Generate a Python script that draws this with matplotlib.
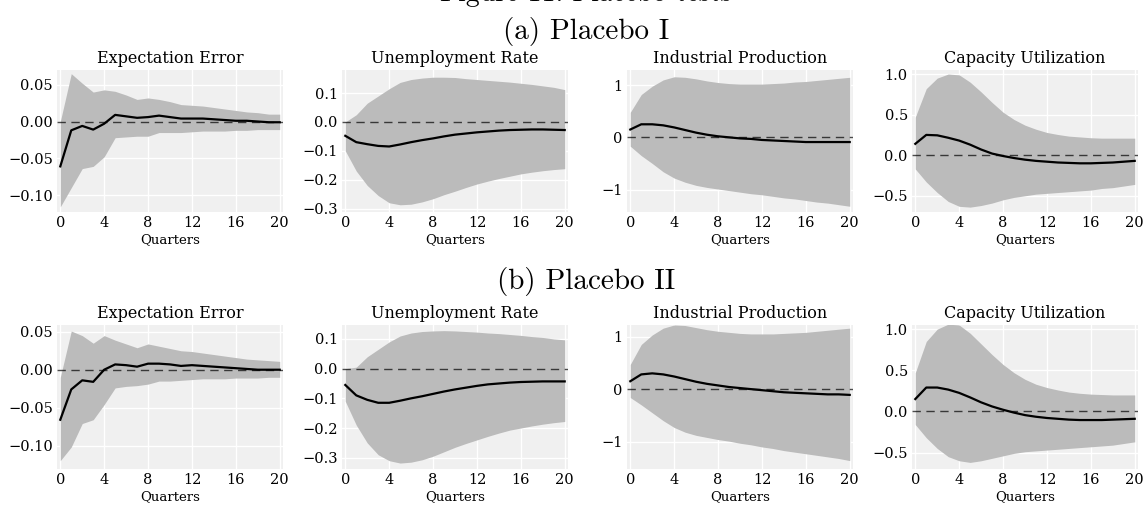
import numpy as np
import matplotlib
matplotlib.use("Agg")
import matplotlib.pyplot as plt

quarters = np.arange(21)
titles = ["Expectation Error", "Unemployment Rate", "Industrial Production", "Capacity Utilization"]
panel_names = ["(a) Placebo I", "(b) Placebo II"]

# Placebo I
a_ee_irf = [-0.061, -0.012, -0.006, -0.011, -0.003, 0.009, 0.007, 0.005, 0.006, 0.008, 0.006,
            0.004, 0.004, 0.004, 0.003, 0.002, 0.001, 0.001, 0.000, -0.001, -0.001]
a_ee_hi = [0.000, 0.065, 0.052, 0.040, 0.043, 0.041, 0.036, 0.030, 0.032, 0.030, 0.027,
           0.023, 0.022, 0.021, 0.019, 0.017, 0.015, 0.013, 0.012, 0.010, 0.010]
a_ee_lo = [-0.116, -0.090, -0.064, -0.061, -0.048, -0.022, -0.021, -0.020, -0.020, -0.015, -0.015,
           -0.015, -0.014, -0.013, -0.013, -0.013, -0.012, -0.012, -0.011, -0.011, -0.011]

a_ur_irf = [-0.048, -0.070, -0.077, -0.083, -0.085, -0.078, -0.070, -0.063, -0.057, -0.050, -0.044,
            -0.040, -0.036, -0.033, -0.030, -0.028, -0.027, -0.026, -0.026, -0.027, -0.028]
a_ur_hi = [0.000, 0.025, 0.065, 0.090, 0.115, 0.137, 0.147, 0.152, 0.155, 0.155, 0.154,
           0.150, 0.147, 0.144, 0.141, 0.138, 0.134, 0.130, 0.125, 0.120, 0.112]
a_ur_lo = [-0.100, -0.170, -0.220, -0.255, -0.280, -0.287, -0.285, -0.277, -0.266, -0.252, -0.240,
           -0.227, -0.215, -0.205, -0.196, -0.188, -0.180, -0.174, -0.169, -0.165, -0.162]

a_ip_irf = [0.15, 0.25, 0.25, 0.23, 0.19, 0.14, 0.09, 0.05, 0.02, 0.00, -0.02,
            -0.03, -0.05, -0.06, -0.07, -0.08, -0.09, -0.09, -0.09, -0.09, -0.09]
a_ip_hi = [0.48, 0.82, 0.98, 1.10, 1.16, 1.15, 1.12, 1.08, 1.05, 1.03, 1.02,
           1.02, 1.02, 1.03, 1.04, 1.06, 1.07, 1.09, 1.11, 1.13, 1.15]
a_ip_lo = [-0.17, -0.35, -0.50, -0.66, -0.78, -0.86, -0.92, -0.96, -0.99, -1.02, -1.05,
           -1.08, -1.10, -1.13, -1.16, -1.18, -1.21, -1.24, -1.26, -1.29, -1.32]

a_cu_irf = [0.14, 0.25, 0.245, 0.215, 0.18, 0.13, 0.07, 0.02, -0.01, -0.035, -0.055,
            -0.07, -0.08, -0.09, -0.095, -0.10, -0.10, -0.095, -0.09, -0.08, -0.07]
a_cu_hi = [0.47, 0.82, 0.95, 1.00, 0.99, 0.90, 0.78, 0.65, 0.53, 0.44, 0.37,
           0.32, 0.28, 0.255, 0.235, 0.225, 0.215, 0.21, 0.21, 0.21, 0.21]
a_cu_lo = [-0.17, -0.33, -0.46, -0.57, -0.63, -0.64, -0.62, -0.59, -0.55, -0.52, -0.50,
           -0.48, -0.47, -0.46, -0.45, -0.44, -0.43, -0.41, -0.40, -0.38, -0.36]

# Placebo II
b_ee_irf = [-0.066, -0.026, -0.014, -0.016, 0.000, 0.007, 0.006, 0.004, 0.008, 0.008, 0.007,
            0.005, 0.006, 0.005, 0.004, 0.003, 0.002, 0.001, 0.000, 0.000, 0.000]
b_ee_hi = [-0.010, 0.051, 0.045, 0.035, 0.045, 0.039, 0.034, 0.029, 0.034, 0.031, 0.028,
           0.025, 0.024, 0.022, 0.020, 0.018, 0.016, 0.014, 0.013, 0.012, 0.011]
b_ee_lo = [-0.120, -0.102, -0.071, -0.066, -0.046, -0.024, -0.022, -0.021, -0.019, -0.015, -0.015,
           -0.014, -0.013, -0.012, -0.012, -0.012, -0.011, -0.011, -0.011, -0.010, -0.010]

b_ur_irf = [-0.055, -0.090, -0.105, -0.115, -0.115, -0.108, -0.100, -0.093, -0.085, -0.077, -0.070,
            -0.064, -0.058, -0.053, -0.050, -0.047, -0.045, -0.044, -0.043, -0.043, -0.043]
b_ur_hi = [0.000, 0.005, 0.040, 0.065, 0.090, 0.110, 0.120, 0.125, 0.127, 0.128, 0.127,
           0.125, 0.123, 0.120, 0.118, 0.115, 0.112, 0.108, 0.105, 0.100, 0.097]
b_ur_lo = [-0.110, -0.190, -0.250, -0.290, -0.310, -0.318, -0.315, -0.307, -0.295, -0.280, -0.265,
           -0.252, -0.240, -0.228, -0.217, -0.207, -0.200, -0.193, -0.187, -0.182, -0.178]

b_ip_irf = [0.15, 0.28, 0.30, 0.28, 0.24, 0.19, 0.14, 0.10, 0.07, 0.04, 0.02,
            0.00, -0.02, -0.04, -0.06, -0.07, -0.08, -0.09, -0.10, -0.10, -0.11]
b_ip_hi = [0.47, 0.85, 1.03, 1.16, 1.22, 1.21, 1.17, 1.13, 1.10, 1.08, 1.06,
           1.05, 1.05, 1.05, 1.06, 1.07, 1.08, 1.10, 1.12, 1.14, 1.16]
b_ip_lo = [-0.16, -0.30, -0.45, -0.60, -0.73, -0.82, -0.88, -0.92, -0.96, -0.99, -1.03,
           -1.06, -1.10, -1.13, -1.17, -1.20, -1.23, -1.26, -1.29, -1.32, -1.36]

b_cu_irf = [0.15, 0.29, 0.29, 0.265, 0.225, 0.17, 0.11, 0.06, 0.02, -0.015, -0.045,
            -0.065, -0.08, -0.09, -0.10, -0.105, -0.105, -0.105, -0.10, -0.095, -0.09]
b_cu_hi = [0.47, 0.85, 1.00, 1.06, 1.05, 0.95, 0.82, 0.69, 0.57, 0.47, 0.39,
           0.33, 0.29, 0.26, 0.235, 0.22, 0.21, 0.205, 0.20, 0.20, 0.20]
b_cu_lo = [-0.16, -0.32, -0.45, -0.55, -0.60, -0.62, -0.60, -0.57, -0.54, -0.51, -0.49,
           -0.48, -0.47, -0.46, -0.45, -0.44, -0.43, -0.42, -0.41, -0.39, -0.37]

rows = [
    [(a_ee_irf, a_ee_lo, a_ee_hi), (a_ur_irf, a_ur_lo, a_ur_hi),
     (a_ip_irf, a_ip_lo, a_ip_hi), (a_cu_irf, a_cu_lo, a_cu_hi)],
    [(b_ee_irf, b_ee_lo, b_ee_hi), (b_ur_irf, b_ur_lo, b_ur_hi),
     (b_ip_irf, b_ip_lo, b_ip_hi), (b_cu_irf, b_cu_lo, b_cu_hi)],
]

ylims = [
    [(-0.123, 0.070), (-0.312, 0.180), (-1.43, 1.29), (-0.70, 1.05)],
    [(-0.131, 0.059), (-0.338, 0.147), (-1.52, 1.22), (-0.70, 1.05)],
]
yticks = [
    [[-0.10, -0.05, 0.0, 0.05], [-0.3, -0.2, -0.1, 0.0, 0.1], [-1, 0, 1], [-0.5, 0.0, 0.5, 1.0]],
    [[-0.10, -0.05, 0.0, 0.05], [-0.3, -0.2, -0.1, 0.0, 0.1], [-1, 0, 1], [-0.5, 0.0, 0.5, 1.0]],
]
yfmt = ["{:.2f}", "{:.1f}", "{:.0f}", "{:.1f}"]

plt.rcParams['font.family'] = 'DejaVu Serif'
plt.rcParams['axes.unicode_minus'] = True

W, H = 1148, 507
fig = plt.figure(figsize=(W / 100, H / 100), dpi=100)

# headings sit a little right of centre, as in the page crop
head_x = 586 / W

# figure caption, cropped at the top edge as in the source
fig.text(head_x, 1 - 1 / H, "Figure 11: Placebo tests", family='cmr10', fontsize=20,
         ha='center', va='baseline')

lefts = [57, 342, 627, 912]
ax_w = 226
row_boxes = [(70, 212), (325, 469)]
heading_y = [31, 281]

for r in range(2):
    fig.text(head_x, 1 - heading_y[r] / H, panel_names[r], family='cmr10', fontsize=21,
             ha='center', va='center')
    top, bot = row_boxes[r]
    for c in range(4):
        irf, lo, hi = rows[r][c]
        ax = fig.add_axes([lefts[c] / W, 1 - bot / H, ax_w / W, (bot - top) / H])
        ax.set_facecolor('#f0f0f0')
        for s in ax.spines.values():
            s.set_visible(False)
        ax.grid(True, color='white', lw=1.0)
        ax.set_axisbelow(True)
        ax.fill_between(quarters, lo, hi, color='#bbbbbb', lw=0, zorder=2)
        ax.plot(quarters, irf, color='black', lw=1.6, zorder=4)
        ax.axhline(0, color='black', ls='--', lw=1.0, alpha=0.7, dashes=(6, 4), zorder=3)
        ax.set_xlim(-0.3, 20.3)
        ax.set_ylim(*ylims[r][c])
        ax.set_xticks([0, 4, 8, 12, 16, 20])
        ax.set_yticks(yticks[r][c])
        ax.set_yticklabels([yfmt[c].format(v).replace('-', '\u2212') for v in yticks[r][c]])
        ax.tick_params(length=0, labelsize=10.5, pad=3)
        ax.set_xlabel("Quarters", fontsize=9.5, labelpad=2)
        ax.set_title(titles[c], fontsize=11.5, pad=5)

fig.savefig("out.png", dpi=100)
